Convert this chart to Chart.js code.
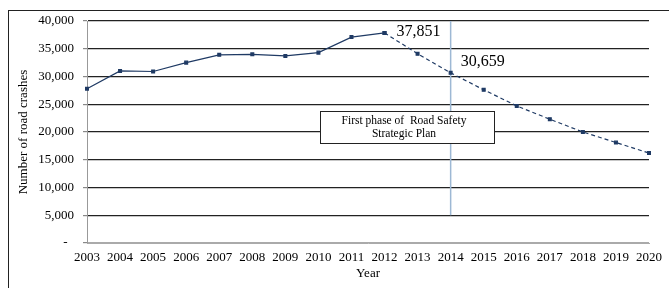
<!DOCTYPE html>
<html>
<head>
<meta charset="utf-8">
<script src="https://cdn.jsdelivr.net/npm/chart.js@4.4.0/dist/chart.umd.min.js"></script>
<style>
  html, body { margin: 0; padding: 0; background: #fff; }
  #wrap { width: 669px; height: 288px; }
</style>
</head>
<body>
<div id="wrap"><canvas id="crashChart" width="669" height="288"></canvas></div>
<script>
// road crashes per year, actual up to 2012 then projection
var years = ['2003','2004','2005','2006','2007','2008','2009','2010','2011','2012',
             '2013','2014','2015','2016','2017','2018','2019','2020'];
var actual = [27800, 31000, 30900, 32500, 33900, 34000, 33700, 34300, 37100, 37851,
              null, null, null, null, null, null, null, null];
var projected = [null, null, null, null, null, null, null, null, null, 37851,
                 34100, 30659, 27600, 24700, 22300, 20000, 18100, 16200];
var yTicks = [0, 5000, 10000, 15000, 20000, 25000, 30000, 35000, 40000];
var planYear = '2014';
var planLabel = ['First phase of  Road Safety', 'Strategic Plan'];
var calloutYears = ['2012', '2014'];

var serif = "'Liberation Serif', 'Times New Roman', serif";
var navy = '#1F3A64';

var extras = {
	id: 'extras',
	beforeDraw: function(chart) {
		var c = chart.ctx;
		c.save();
		c.fillStyle = '#fff';
		c.fillRect(0, 0, chart.width, chart.height);
		c.strokeStyle = '#222';
		c.lineWidth = 1;
		c.strokeRect(8.5, 10.5, 700, 300);
		c.restore();
	},
	beforeDatasetsDraw: function(chart) {
		var c = chart.ctx;
		var x = chart.scales.x.getPixelForValue(years.indexOf(planYear));
		c.save();
		c.strokeStyle = '#9DB8D4';
		c.lineWidth = 1.5;
		c.beginPath();
		c.moveTo(x, chart.scales.y.getPixelForValue(40000));
		c.lineTo(x, chart.scales.y.getPixelForValue(5000));
		c.stroke();
		c.restore();
	},
	afterDatasetsDraw: function(chart) {
		var c = chart.ctx;
		var xs = chart.scales.x, ys = chart.scales.y;
		c.save();
		// text box
		c.fillStyle = '#fff';
		c.fillRect(320, 111, 174, 32);
		c.strokeStyle = '#222';
		c.lineWidth = 1;
		c.strokeRect(320.5, 111.5, 174, 32);
		c.fillStyle = '#000';
		c.font = '11.5px ' + serif;
		c.textAlign = 'center';
		c.textBaseline = 'middle';
		c.fillText(planLabel[0], 404, 121);
		c.fillText(planLabel[1], 404, 133.5);
		// value callouts
		c.font = '16px ' + serif;
		c.textAlign = 'left';
		var i1 = years.indexOf(calloutYears[0]);
		var i2 = years.indexOf(calloutYears[1]);
		var v1 = projected[i1], v2 = projected[i2];
		c.fillText(v1.toLocaleString('en-US'), xs.getPixelForValue(i1) + 12, ys.getPixelForValue(v1) - 1);
		c.fillText(v2.toLocaleString('en-US'), xs.getPixelForValue(i2) + 10, ys.getPixelForValue(v2) - 11);
		c.restore();
	}
};

var ctx = document.getElementById('crashChart');
var crashChart = new Chart(ctx, {
	type: 'line',
	data: {
		labels: years,
		datasets: [
			{
				label: 'Actual',
				data: actual,
				borderColor: navy,
				backgroundColor: navy,
				borderWidth: 1.2,
				pointStyle: 'rect',
				pointRadius: 2,
				tension: 0
			},
			{
				label: 'Projected',
				data: projected,
				borderColor: navy,
				backgroundColor: navy,
				borderWidth: 1.2,
				borderDash: [4, 3],
				pointStyle: 'rect',
				pointRadius: 2,
				tension: 0
			}
		]
	},
	options: {
		responsive: false,
		animation: false,
		events: [],
		layout: { padding: { left: 9, top: 21, right: 18, bottom: 0 } },
		plugins: {
			legend: { display: false },
			tooltip: { enabled: false }
		},
		scales: {
			x: {
				offset: false,
				grid: { display: false, drawTicks: false },
				border: { display: true, color: '#aaa', width: 1 },
				ticks: { color: '#000', font: { family: serif, size: 13 }, padding: 7, maxRotation: 0, autoSkip: false },
				title: { display: true, text: 'Year', color: '#000', font: { family: serif, size: 13 }, padding: { top: 0, bottom: 7 } },
				afterFit: function(s) { s.height = 45; }
			},
			y: {
				min: 0,
				max: 40000,
				afterBuildTicks: function(s) { s.ticks = yTicks.map(function(v) { return { value: v }; }); },
				grid: {
					color: function(c) { return c.tick && c.tick.value === 0 ? '#aaa' : '#222'; },
					lineWidth: 1.2,
					tickLength: 4,
					tickColor: '#888'
				},
				border: { display: true, color: '#999', width: 1 },
				ticks: {
					color: '#000',
					font: { family: serif, size: 13 },
					padding: 9,
					callback: function(v) { return v === 0 ? '-  ' : v.toLocaleString('en-US'); }
				},
				title: { display: true, text: 'Number of road crashes', color: '#000', font: { family: serif, size: 13 }, padding: { top: 7, bottom: 0 } },
				afterFit: function(s) { s.width = 78; }
			}
		}
	},
	plugins: [extras]
});
</script>
</body>
</html>
